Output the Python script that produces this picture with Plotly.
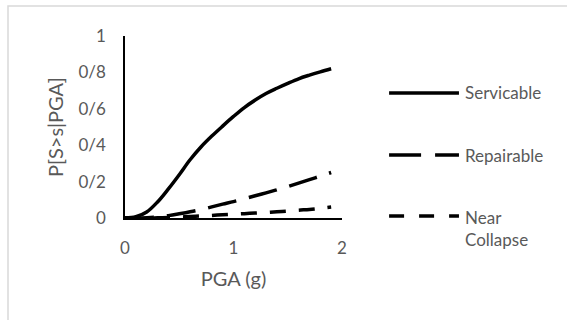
import plotly.graph_objects as go

pga = [0.0, 0.1, 0.2, 0.3, 0.4, 0.5, 0.6, 0.7, 0.8, 0.9, 1.0,
       1.1, 1.2, 1.3, 1.4, 1.5, 1.6, 1.7, 1.8, 1.9]
servicable = [0.0, 0.007, 0.033, 0.088, 0.16, 0.238, 0.32, 0.39, 0.45, 0.505, 0.558,
              0.607, 0.648, 0.684, 0.713, 0.74, 0.765, 0.785, 0.803, 0.82]
repairable = [0.0, 0.0, 0.002, 0.006, 0.013, 0.023, 0.034, 0.046, 0.061, 0.076, 0.09,
              0.106, 0.122, 0.138, 0.155, 0.173, 0.192, 0.211, 0.23, 0.25]
near_collapse = [0.0, 0.0, 0.0, 0.001, 0.003, 0.005, 0.008, 0.011, 0.014, 0.018, 0.021,
                 0.024, 0.027, 0.03, 0.034, 0.038, 0.043, 0.047, 0.053, 0.06]

series_names = ["Servicable", "Repairable", "Near<br>Collapse"]
y_tickvals = [0, 0.2, 0.4, 0.6, 0.8, 1.0]
y_ticktext = ["0", "0/2", "0/4", "0/6", "0/8", "1"]
x_tickvals = [0, 1, 2]
x_ticktext = ["0", "1", "2"]

FONT = "Lato"
GRAY = "#595959"
dashes = ["solid", "29px,13px", "16px,13px"]
series = [servicable, repairable, near_collapse]

fig = go.Figure()
for name, ys, dash in zip(series_names, series, dashes):
    fig.add_trace(go.Scatter(x=pga, y=ys, mode="lines", name=name,
                             line=dict(color="black", width=3.5, dash=dash, shape="spline"),
                             showlegend=False))

# manual legend (long line samples as in the reference)
leg_y = [0.687, 0.346, 0.011]
leg_dash = ["solid", "32px,14px", "15px,15px"]
for name, yy, dash in zip(series_names, leg_y, leg_dash):
    fig.add_shape(type="line", xref="paper", yref="paper", x0=1.217, x1=1.539, y0=yy, y1=yy,
                  line=dict(color="black", width=3.5, dash=dash))
    fig.add_annotation(xref="paper", yref="paper", x=1.557, y=yy, text=name,
                       showarrow=False, xanchor="left",
                       yanchor="middle" if "<br>" not in name else "top",
                       yshift=0 if "<br>" not in name else 11,
                       align="left", font=dict(family=FONT, size=17, color=GRAY))

# chart border (only top/left visible in the frame)
fig.add_shape(type="rect", xref="paper", yref="paper",
              x0=-117 / 217, x1=470 / 217, y0=(218 - 6) / 182, y1=(218 - 340) / 182,
              line=dict(color="#d9d9d9", width=1.5), layer="below")

fig.update_layout(
    width=567, height=320,
    margin=dict(l=125, r=225, t=36, b=102),
    paper_bgcolor="white", plot_bgcolor="white",
    font=dict(family=FONT, size=17, color=GRAY),
    xaxis=dict(range=[0, 2], tickvals=x_tickvals, ticktext=x_ticktext,
               showgrid=False, zeroline=False, showline=True, linecolor="black", linewidth=1.5,
               ticks="outside", ticklen=14, tickcolor="rgba(0,0,0,0)",
               title=dict(text="PGA (g)", standoff=15)),
    yaxis=dict(range=[0, 1], tickvals=y_tickvals, ticktext=y_ticktext,
               showgrid=False, zeroline=False, showline=True, linecolor="black", linewidth=1.5,
               ticks="outside", ticklen=14, tickcolor="rgba(0,0,0,0)",
               title=dict(text="P[S>s|PGA]", standoff=9)),
)

fig.write_html("out.html", config={"displayModeBar": False},
               post_script="document.body.style.margin='0';")
